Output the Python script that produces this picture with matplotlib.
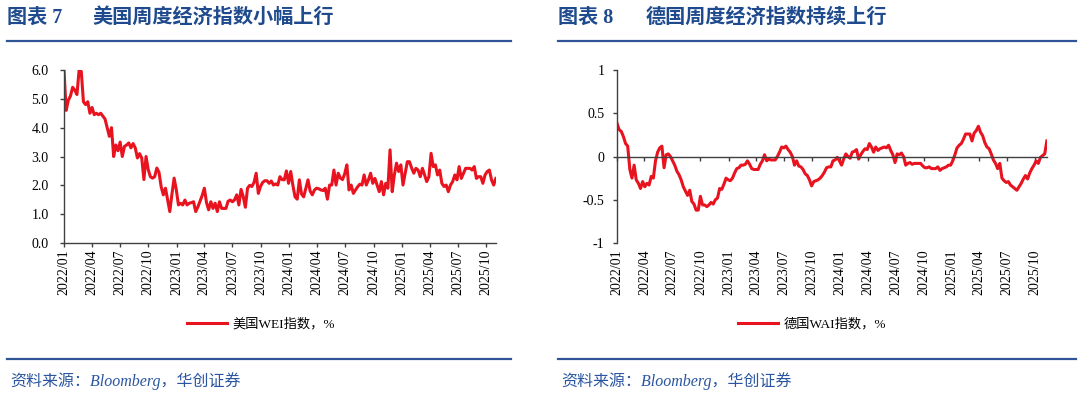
import numpy as np
import pandas as pd
import matplotlib
matplotlib.use("Agg")
import matplotlib.pyplot as plt
import matplotlib.dates as mdates

# weekly readings, first week 2022-01-01
us_wei = [
    6.0, 4.6, 4.95, 5.1, 5.4, 5.3, 5.15, 6.0, 5.95, 4.9,
    4.8, 4.9, 4.5, 4.7, 4.45, 4.5, 4.45, 4.5, 4.4, 4.3,
    4.0, 3.7, 4.0, 3.0, 3.4, 3.2, 3.5, 3.0, 3.35, 3.4,
    3.47, 3.3, 3.45, 3.3, 2.95, 3.1, 2.95, 2.2, 3.0, 2.55,
    2.3, 2.25, 2.3, 2.6, 2.45, 1.95, 1.67, 1.9, 1.5, 1.09,
    1.7, 2.25, 1.85, 1.32, 1.38, 1.32, 1.49, 1.32, 1.38, 1.4,
    1.43, 1.09, 1.25, 1.45, 1.65, 1.9, 1.4, 1.15, 1.43, 1.2,
    1.38, 1.09, 1.43, 1.2, 1.2, 1.2, 1.45, 1.49, 1.43, 1.5,
    1.67, 1.32, 1.86, 1.61, 1.24, 1.9, 2.0, 1.96, 2.1, 2.42,
    1.72, 1.96, 2.1, 2.16, 2.16, 2.07, 2.15, 2.01, 2.05, 2.01,
    2.3, 2.2, 2.19, 2.5, 2.07, 2.48, 2.0, 1.6, 1.52, 2.19,
    1.7, 1.6, 1.9, 2.19, 1.8, 1.67, 1.84, 1.9, 1.88, 1.84,
    1.82, 1.9, 1.52, 2.01, 2.01, 2.53, 2.01, 2.42, 2.25, 2.2,
    2.4, 2.71, 1.84, 2.01, 1.72, 1.84, 1.95, 2.04, 2.01, 2.36,
    2.01, 2.19, 2.42, 2.07, 2.24, 2.01, 1.78, 2.13, 1.67, 2.07,
    1.9, 3.23, 1.78, 2.36, 2.77, 2.48, 2.71, 2.01, 2.42, 2.82,
    2.82, 2.6, 2.42, 2.59, 2.53, 2.3, 2.59, 2.36, 2.13, 2.3,
    3.11, 2.65, 2.71, 2.36, 2.53, 2.07, 1.96, 2.01, 1.78, 2.01,
    2.13, 2.36, 2.19, 2.65, 2.24, 2.42, 2.59, 2.59, 2.59, 2.53,
    2.65, 2.24, 2.3, 2.3, 2.07, 2.36, 2.48, 2.53, 2.19, 2.01,
    2.24,
]

de_wai = [
    0.385, 0.31, 0.29, 0.23, 0.15, 0.12, -0.15, -0.25, -0.1, -0.27,
    -0.31, -0.37, -0.29, -0.35, -0.31, -0.33, -0.23, -0.25, -0.05, 0.05,
    0.1, 0.12, -0.13, 0.02, 0.03, 0.0, -0.05, -0.1, -0.17, -0.21,
    -0.27, -0.35, -0.4, -0.45, -0.39, -0.52, -0.55, -0.62, -0.62, -0.46,
    -0.56, -0.56, -0.58, -0.56, -0.53, -0.55, -0.5, -0.48, -0.37, -0.38,
    -0.32, -0.25, -0.27, -0.28, -0.25, -0.19, -0.14, -0.13, -0.1, -0.1,
    -0.09, -0.05, -0.09, -0.14, -0.15, -0.15, -0.15, -0.09, -0.05, 0.02,
    -0.05, -0.03, -0.04, -0.04, -0.04, 0.0, 0.05, 0.11, 0.1, 0.12,
    0.08, 0.05, 0.0, -0.1, -0.05, -0.11, -0.12, -0.15, -0.2, -0.22,
    -0.27, -0.34, -0.29, -0.28, -0.27, -0.25, -0.22, -0.18, -0.13, -0.12,
    -0.12, -0.05, -0.04, -0.01, -0.05, -0.1, -0.03, 0.03, 0.0, -0.02,
    0.05, 0.06, 0.08, -0.03, 0.02, 0.06, 0.09, 0.08, 0.15, 0.11,
    0.05, 0.11, 0.07, 0.09, 0.1, 0.11, 0.1, 0.13, 0.07, 0.02,
    -0.07, 0.03, 0.02, 0.04, 0.0, -0.1, -0.08, -0.07, -0.09, -0.08,
    -0.08, -0.08, -0.08, -0.11, -0.13, -0.13, -0.12, -0.14, -0.14, -0.14,
    -0.12, -0.16, -0.14, -0.13, -0.12, -0.1, -0.1, -0.05, 0.02, 0.1,
    0.13, 0.15, 0.2, 0.26, 0.26, 0.26, 0.18, 0.27, 0.3, 0.35,
    0.28, 0.24, 0.16, 0.11, 0.09, 0.03, -0.04, -0.08, -0.14, -0.08,
    -0.25, -0.28, -0.3, -0.29, -0.33, -0.35, -0.37, -0.39, -0.35, -0.31,
    -0.26, -0.22, -0.26, -0.19, -0.14, -0.1, -0.05, -0.08, -0.01, 0.01,
    0.03, 0.18,
]

us_dates = pd.date_range("2022-01-01", periods=len(us_wei), freq="7D")
de_dates = pd.date_range("2022-01-01", periods=len(de_wai), freq="7D")

tick_dates = pd.date_range("2022-01-01", "2025-10-01", freq="3MS")
tick_labels = [d.strftime("%Y/%m") for d in tick_dates]

us_yticks = [0, 1, 2, 3, 4, 5, 6]
de_yticks = [-1, -0.5, 0, 0.5, 1]
de_ylabels = ["-1", "-0.5", "0", "0.5", "1"]

titles = [("图表 7", "美国周度经济指数小幅上行"), ("图表 8", "德国周度经济指数持续上行")]
legend_names = ["美国WEI指数，%", "德国WAI指数，%"]
source = "资料来源：Bloomberg，华创证券"

RED = "#E8131F"
NAVY = "#1F4B8E"
AX = "#404040"
serif = ["Liberation Serif", "Noto Sans CJK SC"]

W, H = 1080, 399
fig = plt.figure(figsize=(W / 100, H / 100), dpi=100)


def fx(px):
    return px / W


def fy(py):
    return 1 - py / H


def style(ax, yticks, ylabels):
    for s in ["top", "right"]:
        ax.spines[s].set_visible(False)
    for s in ["left", "bottom"]:
        ax.spines[s].set_color(AX)
        ax.spines[s].set_linewidth(1.0)
    ax.set_xticks(mdates.date2num(tick_dates))
    ax.set_xticklabels(tick_labels, rotation=90, family=serif, fontsize=10)
    ax.set_yticks(yticks)
    ax.set_yticklabels(ylabels, family=serif, fontsize=10)
    ax.tick_params(axis="both", direction="out", length=3, width=1, color=AX)


# left panel: US WEI
ax1 = fig.add_axes([fx(64), fy(243), fx(496 - 64), fy(70) - fy(243)])
ax1.plot(us_dates, us_wei, color=RED, lw=2.2, label=legend_names[0])
ax1.set_xlim(mdates.date2num(pd.Timestamp("2022-01-01")),
             mdates.date2num(us_dates[-1]) + 0.5)
ax1.set_ylim(0, 6)
style(ax1, us_yticks, [f"{v:.1f}" for v in us_yticks])
ax1.tick_params(axis="y", pad=8)
ax1.tick_params(axis="x", pad=1.5)

# right panel: Germany WAI, x axis drawn along zero
ax2 = fig.add_axes([fx(617), fy(243), fx(1047 - 617), fy(70) - fy(243)])
ax2.spines["bottom"].set_position(("data", 0))
ax2.plot(de_dates, de_wai, color=RED, lw=2.2, label=legend_names[1])
ax2.set_xlim(mdates.date2num(pd.Timestamp("2022-01-01")),
             mdates.date2num(de_dates[-1]) + 0.5)
ax2.set_ylim(-1, 1)
style(ax2, de_yticks, de_ylabels)
ax2.tick_params(axis="y", pad=6)
ax2.tick_params(axis="x", pad=64)

# legends
for ax, cx in [(ax1, 261), (ax2, 812)]:
    fig.legend(handles=ax.get_lines(), loc="center",
               bbox_to_anchor=(fx(cx), fy(324)), frameon=False,
               prop={"family": serif, "size": 9.5},
               handlelength=3.0, handletextpad=0.4)

# headers, rules, source
for (num, text), x0, xt, x1 in [(titles[0], 7, 92, 511), (titles[1], 558, 646, 1076)]:
    fig.text(fx(x0), fy(18), num, family=serif, weight="bold",
             fontsize=14.5, color=NAVY, va="center", ha="left")
    fig.text(fx(xt), fy(18), text, family=serif, weight="bold",
             fontsize=14.5, color=NAVY, va="center", ha="left")
    fig.add_artist(plt.Line2D([fx(x0), fx(x1)], [fy(41), fy(41)],
                              color="#2F5597", lw=1.6))
    fig.add_artist(plt.Line2D([fx(x0), fx(x1)], [fy(359), fy(359)],
                              color="#2F5597", lw=1.6))
    fig.text(fx(x0 + 3), fy(381), source, family=serif, style="italic",
             fontsize=11.5, color="#2A55A0", va="center", ha="left")

fig.savefig("out.png", dpi=100)
